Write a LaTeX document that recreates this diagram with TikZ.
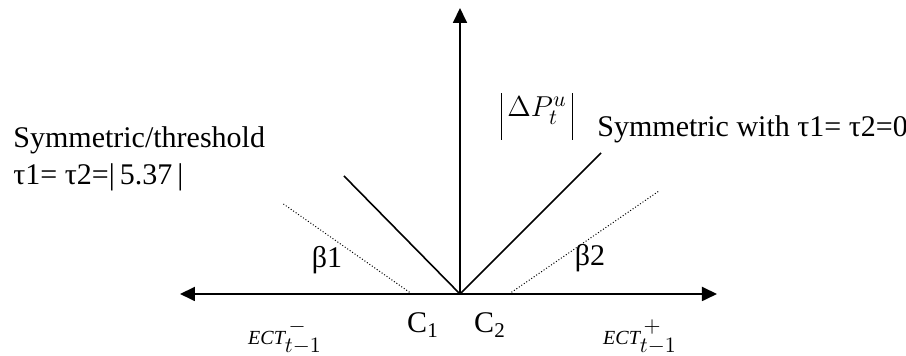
\documentclass[tikz,border=0pt]{standalone}
\usepackage{fontspec}
\setmainfont{Liberation Serif}
\usepackage{tikz}
\usetikzlibrary{arrows.meta}

\begin{document}
\begin{tikzpicture}[x=0.5pt, y=0.5pt,
  font=\fontsize{15}{18.5}\selectfont,
  eje/.style={-{Triangle[length=7.5pt, width=7pt]}, line width=0.9pt},
  recta/.style={line width=0.8pt},
  umbral/.style={line width=0.5pt, dash pattern=on 0.5pt off 1pt},
  etiq/.style={inner sep=0pt}]
  \useasboundingbox (-460,-62) rectangle (446,294);
  % ejes
  \coordinate (O) at (0,0);
  \coordinate (xizq) at (-280,0);
  \coordinate (xder) at (257,0);
  \coordinate (ysup) at (0,286);
  \draw[eje] (O) -- (xizq);
  \draw[eje] (O) -- (xder);
  \draw[eje] (O) -- (ysup);
  % caso simetrico
  \coordinate (sizq) at (-116,118);
  \coordinate (sder) at (141,141);
  \draw[recta] (O) -- (sizq);
  \draw[recta] (O) -- (sder);
  % caso con umbral
  \coordinate (C1) at (-48,0);
  \coordinate (C2) at (49,0);
  \coordinate (uizq) at (-178,91);
  \coordinate (uder) at (199,103);
  \draw[umbral] (C1) -- (uizq);
  \draw[umbral] (C2) -- (uder);
  % etiquetas
  \node[etiq] (b1) at (-133,34) {β1};
  \node[etiq] (b2) at (130,36) {β2};
  \node[etiq] (c1) at (-37,-31) {C\textsubscript{1}};
  \node[etiq] (c2) at (30,-31) {C\textsubscript{2}};
  \node[etiq, anchor=base] (dp) at (77,177)
    {\rule[-11.5pt]{0.6pt}{23.5pt}\,$\Delta P^{u}_{t}$\,\rule[-11.5pt]{0.6pt}{23.5pt}};
  \node[etiq] (ectm) at (-175,-43) {{\fontsize{10}{10}\selectfont\itshape ECT}$^{\,-}_{t-1}$};
  \node[etiq] (ectp) at (180,-43) {{\fontsize{10}{10}\selectfont\itshape ECT}$^{\,+}_{t-1}$};
  \node[etiq, anchor=base west] (sim) at (137,157) {Symmetric with τ1= τ2=0};
  \node[etiq, anchor=base west, align=left] (simu) at (-447,109)
    {Symmetric/threshold\\τ1= τ2=|\,5.37\,|};
\end{tikzpicture}
\end{document}
